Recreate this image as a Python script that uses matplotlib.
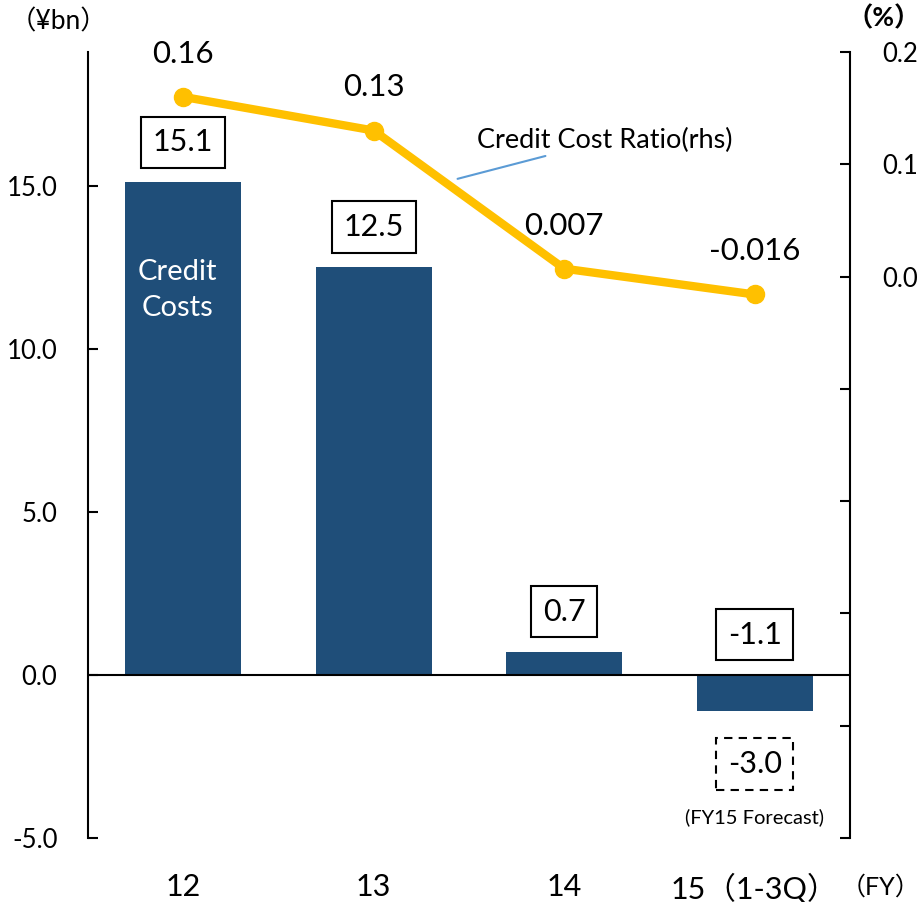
import matplotlib.pyplot as plt

plt.rcParams['font.family'] = ['Lato', 'Noto Sans CJK JP', 'DejaVu Sans']

fiscal_years = ["12", "13", "14", "15（1-3Q）"]
credit_costs = [15.1, 12.5, 0.7, -1.1]          # ¥bn
cost_ratio = [0.16, 0.13, 0.007, -0.016]        # %
ratio_labels = ["0.16", "0.13", "0.007", "-0.016"]
forecast_value = -3.0

bar_color = "#1F4E79"
line_color = "#FFC000"

fig = plt.figure(figsize=(9.23, 9.02), dpi=100)
ax = fig.add_axes([0.0953, 0.0710, 0.8256, 0.8714])
x = list(range(len(fiscal_years)))

ax.bar(x, credit_costs, width=0.61, color=bar_color, zorder=2)
ax.axhline(0, color="black", lw=1.5, zorder=3)
ax.set_xlim(-0.5, 3.5)
ax.set_ylim(-5, 19.1)
ax.set_yticks([-5, 0, 5, 10, 15])
ax.set_yticklabels([f"{v:.1f}" for v in [-5, 0, 5, 10, 15]], fontsize=18.5)
ax.tick_params(axis="y", direction="in", length=7, width=1.5, pad=22)
ax.set_xticks(x)
ax.set_xticklabels(fiscal_years, fontsize=22)
ax.tick_params(axis="x", length=0, pad=25)
for s in ["top", "right", "bottom"]:
    ax.spines[s].set_visible(False)
ax.spines["left"].set_linewidth(1.5)

# value boxes above each bar
for xi, v in zip(x, credit_costs):
    ax.annotate(f"{v:.1f}", (xi, max(v, 0)), xytext=(0, 29), textcoords="offset points",
                ha="center", va="center", fontsize=22, zorder=5,
                bbox=dict(boxstyle="square,pad=0.38", fc="white", ec="black", lw=1.5))

ax.text(3, -2.73, f"{forecast_value:.1f}", ha="center", va="center", fontsize=22,
        bbox=dict(boxstyle="square,pad=0.38", fc="white", ec="black", lw=1.5, ls=(0, (4, 3))))
ax.text(3, -4.35, "(FY15 Forecast)", ha="center", va="center", fontsize=14.5)

ax.text(-0.03, 11.8, "Credit\nCosts", color="white", ha="center", va="center",
        fontsize=21, linespacing=1.45)

# ratio on the right axis
ax2 = ax.twinx()
ax2.plot(x, cost_ratio, color=line_color, lw=6, marker="o", ms=13, zorder=4)
ax2.set_ylim(-0.5, 0.2)
ax2.set_yticks([-0.5, -0.4, -0.3, -0.2, -0.1, 0.0, 0.1, 0.2])
ax2.set_yticklabels(["", "", "", "", "", "0.0", "0.1", "0.2"], fontsize=18.5)
ax2.tick_params(axis="y", direction="in", length=7, width=1.5, pad=23)
for s in ["top", "left", "bottom"]:
    ax2.spines[s].set_visible(False)
ax2.spines["right"].set_linewidth(1.5)

for xi, v, lab in zip(x, cost_ratio, ratio_labels):
    ax2.annotate(lab, (xi, v), xytext=(0, 31), textcoords="offset points",
                 ha="center", va="center", fontsize=22.5)

ax2.annotate("Credit Cost Ratio(rhs)", xy=(1.44, 0.087), xytext=(1.54, 0.121),
             ha="left", va="center", fontsize=19.5,
             arrowprops=dict(arrowstyle="-", color="#5B9BD5", lw=1.5, shrinkA=0, shrinkB=0))

fig.text(58 / 923, 1 - 22 / 902, "（¥bn）", ha="center", va="center", fontsize=19)
fig.text(884 / 923, 1 - 18 / 902, "（%）", ha="center", va="center", fontsize=19, fontweight="bold")
fig.text(920 / 923, 1 - 887 / 902, "（FY）", ha="right", va="center", fontsize=18)

fig.savefig("out.png", dpi=100)
